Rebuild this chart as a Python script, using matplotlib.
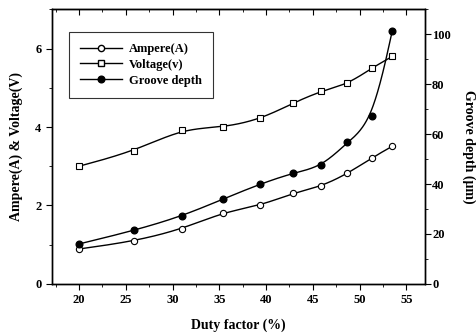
import numpy as np
import matplotlib
matplotlib.use('Agg')
import matplotlib.pyplot as plt
from matplotlib.ticker import MultipleLocator

# data
duty = [20, 25.9, 31.0, 35.4, 39.4, 42.9, 45.9, 48.7, 51.3, 53.5]
ampere = [0.89, 1.10, 1.41, 1.81, 2.01, 2.31, 2.50, 2.82, 3.21, 3.51]
voltage = [3.00, 3.40, 3.92, 4.00, 4.22, 4.61, 4.91, 5.11, 5.50, 5.80]
groove = [16.0, 21.5, 27.3, 34.0, 40.0, 44.4, 47.5, 56.9, 67.2, 101.5]


def bspline(x, y, a=0.6, n=40):
    # smooth line drawn near the points: cubic B-spline with slightly sharpened control points
    P = np.column_stack([x, y]).astype(float)
    Q = P.copy()
    Q[1:-1] = P[1:-1] + a * (P[1:-1] - (P[:-2] + 4 * P[1:-1] + P[2:]) / 6)
    Q = np.vstack([Q[:1], Q[:1], Q, Q[-1:], Q[-1:]])
    t = np.linspace(0, 1, n)[:, None]
    b0 = (1 - t)**3 / 6
    b1 = (3 * t**3 - 6 * t**2 + 4) / 6
    b2 = (-3 * t**3 + 3 * t**2 + 3 * t + 1) / 6
    b3 = t**3 / 6
    segs = [b0 * Q[i] + b1 * Q[i + 1] + b2 * Q[i + 2] + b3 * Q[i + 3]
            for i in range(len(Q) - 3)]
    c = np.vstack(segs)
    return c[:, 0], c[:, 1]


plt.rcParams['font.family'] = 'Liberation Serif'
plt.rcParams['font.weight'] = 'bold'

fig = plt.figure(figsize=(4.76, 3.34), dpi=100)
ax = fig.add_axes([0.109, 0.150, 0.784, 0.822])
ax2 = ax.twinx()

lw = 1.0
for vals in (ampere, voltage):
    xs, ys = bspline(duty, vals)
    ax.plot(xs, ys, color='black', lw=lw)
ax.plot(duty, ampere, 'o', mfc='white', mec='black', ms=4.5, mew=0.8)
ax.plot(duty, voltage, 's', mfc='white', mec='black', ms=4.5, mew=0.8)

xs, ys = bspline(duty, groove)
ax2.plot(xs, ys, color='black', lw=lw)
ax2.plot(duty, groove, 'o', mfc='black', mec='black', ms=4.8)

ax.set_xlim(17.1, 57)
ax.set_ylim(0, 7)
ax2.set_ylim(0, 110)

ax.xaxis.set_major_locator(MultipleLocator(5))
ax.xaxis.set_minor_locator(MultipleLocator(2.5))
ax.yaxis.set_major_locator(MultipleLocator(2))
ax.yaxis.set_minor_locator(MultipleLocator(1))
ax2.yaxis.set_major_locator(MultipleLocator(20))
ax2.yaxis.set_minor_locator(MultipleLocator(10))

# top axis carries inward ticks only
top = ax.secondary_xaxis('top')
top.xaxis.set_major_locator(MultipleLocator(5))
top.xaxis.set_minor_locator(MultipleLocator(2.5))
top.tick_params(which='both', direction='in', labeltop=False)
top.tick_params(which='major', length=4)
top.tick_params(which='minor', length=2.5)

ax.tick_params(axis='x', which='major', length=4, labelsize=9)
ax.tick_params(axis='x', which='minor', length=2.5)
ax.tick_params(axis='y', which='major', length=4, labelsize=9)
ax.tick_params(axis='y', which='minor', length=2.5)
ax2.tick_params(axis='y', which='major', length=4, labelsize=9, pad=1)
ax2.tick_params(axis='y', which='minor', length=2.5)

for a in (ax, ax2):
    for s in a.spines.values():
        s.set_linewidth(1.0)

ax.set_xlabel('Duty factor (%)', fontsize=10, fontweight='bold', labelpad=9)
ax.set_ylabel('Ampere(A) & Voltage(V)', fontsize=10, fontweight='bold', labelpad=9)
ax2.set_ylabel('Groove depth (\u03bcm)', fontsize=10, fontweight='bold', rotation=270, labelpad=18)

h1 = plt.Line2D([], [], color='black', lw=lw, marker='o', mfc='white', mec='black', ms=4.5)
h2 = plt.Line2D([], [], color='black', lw=lw, marker='s', mfc='white', mec='black', ms=4.5)
h3 = plt.Line2D([], [], color='black', lw=lw, marker='o', mfc='black', mec='black', ms=4.8)
leg = ax2.legend([h1, h2, h3], ['Ampere(A)', 'Voltage(v)', 'Groove depth'],
                 loc='upper left', bbox_to_anchor=(0.046, 0.918), fontsize=9,
                 frameon=True, fancybox=False, edgecolor='black', handlelength=3.3,
                 borderpad=0.9, labelspacing=0.3, borderaxespad=0, handletextpad=0.6)
leg.get_frame().set_linewidth(0.8)

fig.savefig('out.png', dpi=100)
